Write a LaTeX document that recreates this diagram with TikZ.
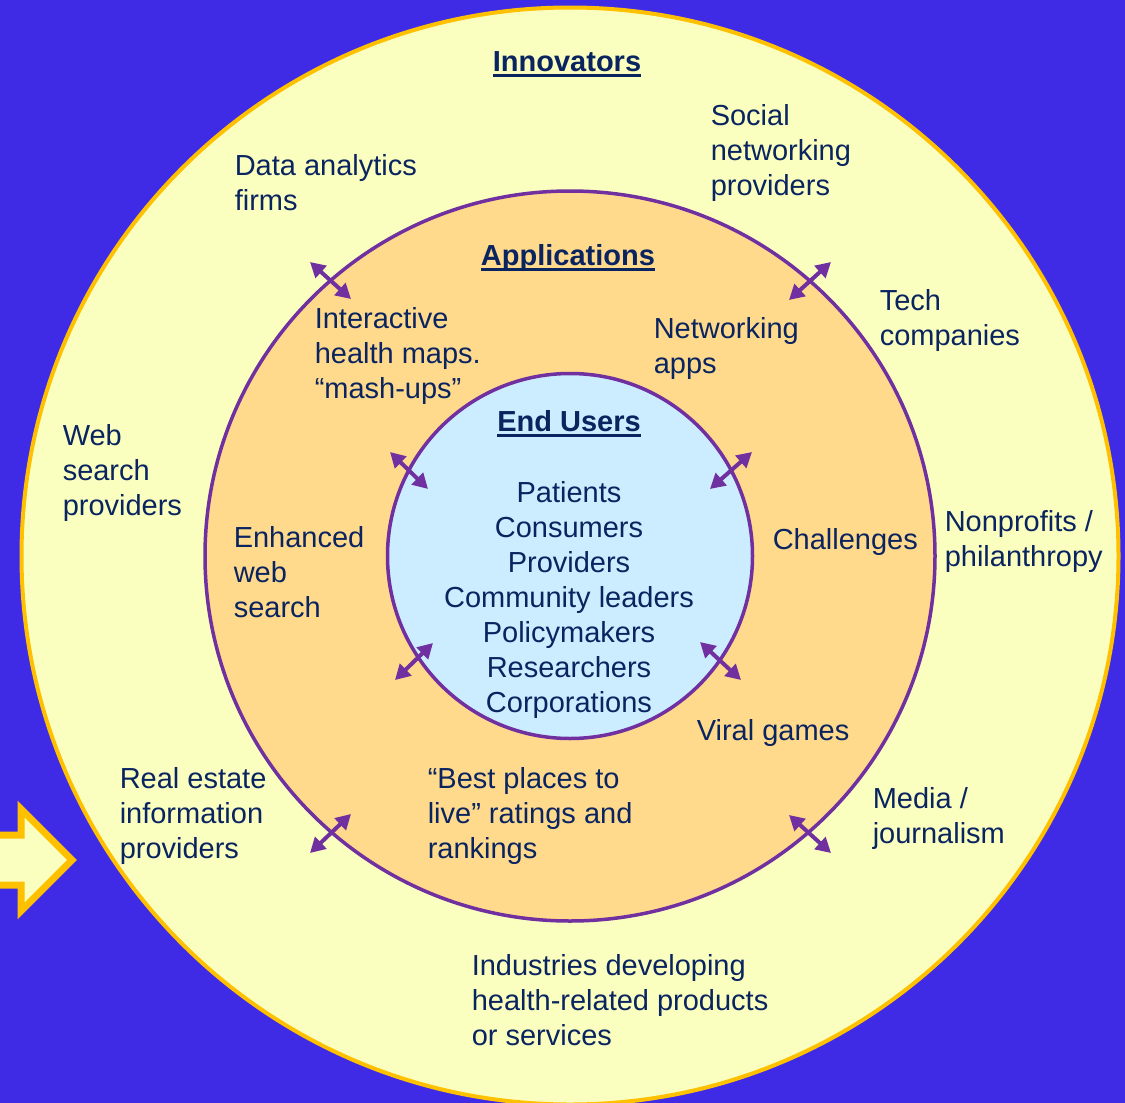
\documentclass[tikz,border=0pt]{standalone}
\usepackage{fontspec}
\setmainfont{Liberation Sans}
\usetikzlibrary{arrows.meta}

\definecolor{bgblue}{HTML}{3F2BE6}
\definecolor{ringyellow}{HTML}{FAFFBF}
\definecolor{ringgold}{HTML}{FFC000}
\definecolor{ringorange}{HTML}{FFD98C}
\definecolor{coreblue}{HTML}{CCECFF}
\definecolor{linkpurple}{HTML}{7030A0}
\definecolor{navy}{HTML}{0A2460}

% bold ring title with a heavy underline
\newsavebox{\titlebox}
\newcommand{\ringtitle}[1]{\sbox{\titlebox}{\bfseries #1}\rlap{\rule[-6pt]{\wd\titlebox}{3pt}}\usebox{\titlebox}}

\begin{document}
\begin{tikzpicture}[x=1pt, y=-1pt, line width=3.5pt,
  lbl/.style={text=navy, font=\fontsize{29}{35}\selectfont, align=left, anchor=base west, inner sep=0pt},
  ctr/.style={lbl, align=center, anchor=base},
  link/.style={linkpurple, line width=4pt, {Triangle[length=15pt,width=16pt]}-{Triangle[length=15pt,width=16pt]}}]

\useasboundingbox (0,0) rectangle (1125,1103);
\fill[bgblue] (0,0) rectangle (1125,1103);

% the three rings
\filldraw[fill=ringyellow, draw=ringgold, line width=4pt] (570,556) circle[radius=548.5pt];
\filldraw[fill=ringorange, draw=linkpurple] (570,556) circle[radius=365pt];
\filldraw[fill=coreblue, draw=linkpurple] (570,556) circle[radius=182.5pt];

% block arrow pointing in from the left
\filldraw[fill=ringyellow, draw=ringgold, line width=7pt, miter limit=4]
  (-10,835) -- (21,835) -- (21,809) -- (72,860) -- (21,911) -- (21,885) -- (-10,885) -- cycle;

% two-way links across the ring borders
\foreach \xa/\ya/\xb/\yb in {310/262/351/299, 831/262/789/300, 310/853/351/814, 789/815/831/853,
                             390/452/428/489, 752/452/710/489, 395/680/433/643, 700/642/741/680}
    \draw[link] (\xa,\ya) -- (\xb,\yb);

% outer ring: innovators (multi-line labels sit on their last baseline)
\node[ctr] (innovators) at (567,71) {\ringtitle{Innovators}};
\node[lbl] (analytics) at (233,210) {Data analytics\\firms};
\node[lbl] (social) at (709,195) {Social\\networking\\providers};
\node[lbl] (tech) at (878,345) {Tech\\companies};
\node[lbl] (websearch) at (61,515) {Web\\search\\providers};
\node[lbl] (nonprofits) at (943,566) {Nonprofits /\\philanthropy};
\node[lbl] (realestate) at (118,858) {Real estate\\information\\providers};
\node[lbl] (media) at (871,843) {Media /\\journalism};
\node[lbl] (industries) at (470,1045) {Industries developing\\health-related products\\or services};

% middle ring: applications
\node[ctr] (applications) at (568,265) {\ringtitle{Applications}};
\node[lbl] (maps) at (313,398) {Interactive\\health maps.\\“mash-ups”};
\node[lbl] (netapps) at (652,373) {Networking\\apps};
\node[lbl] (enhanced) at (232,617) {Enhanced\\web\\search};
\node[lbl] (challenges) at (771,549) {Challenges};
\node[lbl] (viral) at (695,740) {Viral games};
\node[lbl] (places) at (426,858) {“Best places to\\live” ratings and\\rankings};

% core: end users
\node[ctr] (endusers) at (569,431) {\ringtitle{End Users}};
\node[ctr] (users) at (569,712) {Patients\\Consumers\\Providers\\Community leaders\\Policymakers\\Researchers\\Corporations};

\end{tikzpicture}
\end{document}
